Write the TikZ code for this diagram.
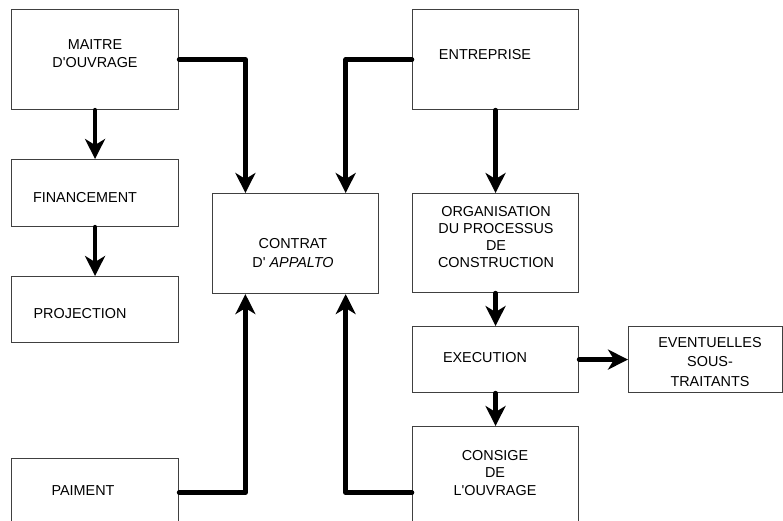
\documentclass[tikz,border=0pt]{standalone}
\usepackage{fontspec}
\setmainfont{Liberation Sans}
\usetikzlibrary{arrows.meta,calc}
\newcommand\apos{\textquotesingle}
\begin{document}
\begin{tikzpicture}[x=1pt,y=-1pt,
  box/.style={draw=black!75, line width=1.1pt, inner sep=0pt, anchor=north west},
  lbl/.style={font=\fontsize{14.4}{#1}\selectfont, align=center, inner sep=0pt},
  lbl/.default=18,
  flow/.style={line width=4.5pt, line cap=round, line join=round,
    -{Stealth[length=20pt,width=20pt,inset=6pt]}}]
\useasboundingbox (0,0) rectangle (783,520);
\clip (0,0) rectangle (783,520);

% boxes
\node[box, minimum width=167pt, minimum height=100pt] (maitre) at (11,9) {};
\node[box, minimum width=167pt, minimum height=67pt] (fin) at (11,159) {};
\node[box, minimum width=167pt, minimum height=66pt] (proj) at (11,276) {};
\node[box, minimum width=167pt, minimum height=68pt] (paim) at (11,458) {};
\node[box, minimum width=166pt, minimum height=100pt] (contrat) at (212,193) {};
\node[box, minimum width=166pt, minimum height=100pt] (entr) at (412,9) {};
\node[box, minimum width=166pt, minimum height=99pt] (org) at (412,193) {};
\node[box, minimum width=166pt, minimum height=66pt] (exec) at (412,326) {};
\node[box, minimum width=166pt, minimum height=132pt] (consige) at (412,426) {};
\node[box, minimum width=154pt, minimum height=66pt] (event) at (628,326) {};

% labels
\node[lbl] (maitre-t) at (95,54) {MAITRE\\D\apos OUVRAGE};
\node[lbl] (fin-t) at (85,198) {FINANCEMENT};
\node[lbl] (proj-t) at (80,314) {PROJECTION};
\node[lbl] (paim-t) at (83,491) {PAIMENT};
\node[lbl=19] (contrat-t) at (293,253) {CONTRAT\\D\apos{} \textit{APPALTO}};
\node[lbl] (entr-t) at (485,55) {ENTREPRISE};
\node[lbl=16.7] (org-t) at (496,237) {ORGANISATION\\DU PROCESSUS\\DE\\CONSTRUCTION};
\node[lbl] (exec-t) at (485,358) {EXECUTION};
\node[lbl=17.5] (consige-t) at (495,473) {CONSIGE\\DE\\L\apos OUVRAGE};
\node[lbl=19.5] (event-t) at (710,362) {EVENTUELLES\\SOUS-\\TRAITANTS};

% connectors
\coordinate (cTL) at ($(contrat.north west)!0.2!(contrat.north east)$);
\coordinate (cTR) at ($(contrat.north west)!0.8!(contrat.north east)$);
\coordinate (cBL) at ($(contrat.south west)!0.2!(contrat.south east)$);
\coordinate (cBR) at ($(contrat.south west)!0.8!(contrat.south east)$);

\draw[flow] (maitre.south) -- (fin.north);
\draw[flow] (fin.south) -- (proj.north);
\draw[flow] (maitre.east) -| (cTL);
\draw[flow] (entr.west) -| (cTR);
\draw[flow] (paim.east) -| (cBL);
\draw[flow] (consige.west) -| (cBR);
\draw[flow] (entr.south) -- (org.north);
\draw[flow] (org.south) -- (exec.north);
\draw[flow] (exec.south) -- (consige.north);
\draw[flow] (exec.east) -- (event.west);
\end{tikzpicture}
\end{document}
